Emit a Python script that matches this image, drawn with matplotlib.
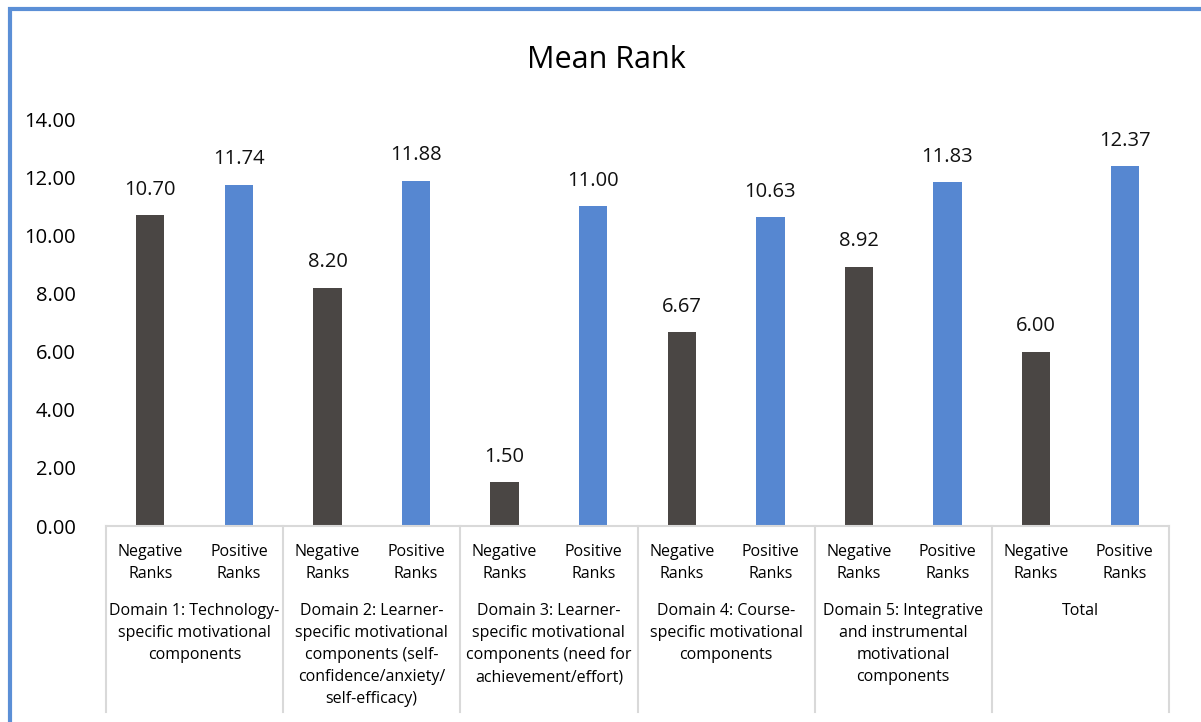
import numpy as np
import matplotlib.pyplot as plt
from matplotlib.lines import Line2D
from matplotlib.patches import Rectangle

plt.rcParams['font.family'] = ['Open Sans', 'DejaVu Sans']

# data
groups = [
    "Domain 1: Technology-\nspecific motivational\ncomponents",
    "Domain 2: Learner-\nspecific motivational\ncomponents (self-\nconfidence/anxiety/\nself-efficacy)",
    "Domain 3: Learner-\nspecific motivational\ncomponents (need for\nachievement/effort)",
    "Domain 4: Course-\nspecific motivational\ncomponents",
    "Domain 5: Integrative\nand instrumental\nmotivational\ncomponents",
    "Total",
]
sub_labels = ["Negative\nRanks", "Positive\nRanks"]
negative = [10.70, 8.20, 1.50, 6.67, 8.92, 6.00]
positive = [11.74, 11.88, 11.00, 10.63, 11.83, 12.37]
yticks = [0, 2, 4, 6, 8, 10, 12, 14]

dark = "#4a4644"
blue = "#5687d1"
grid_col = "#d9d9d9"

fig = plt.figure(figsize=(12.01, 7.22), dpi=100)
ax = fig.add_axes([106 / 1201, 1 - 526 / 722, 1063 / 1201, 407 / 722])

n = len(groups)
values = []
colors = []
for neg, pos in zip(negative, positive):
    values += [neg, pos]
    colors += [dark, blue]
x = np.arange(2 * n) + 0.5
bars = ax.bar(x, values, width=0.32, color=colors)
for b, v in zip(bars, values):
    ax.annotate(f"{v:.2f}", (b.get_x() + b.get_width() / 2, v),
                xytext=(0, 11), textcoords="offset points",
                ha="center", va="bottom", fontsize=14.5, color="#111111")

ax.set_xlim(0, 2 * n)
ax.set_ylim(0, 14)
ax.set_yticks(yticks)
ax.set_yticklabels([f"{t:.2f}" for t in yticks], fontsize=14.5)
ax.tick_params(axis="y", length=0, pad=22)
ax.set_xticks([])
for s in ["top", "right", "left"]:
    ax.spines[s].set_visible(False)
ax.spines["bottom"].set_color(grid_col)
ax.spines["bottom"].set_linewidth(1.5)

# multi-level category axis
trans = ax.get_xaxis_transform()
for i in range(n + 1):
    ax.add_line(Line2D([2 * i, 2 * i], [0, -0.457], transform=trans,
                       color=grid_col, lw=1.5, clip_on=False))
for i in range(2 * n):
    ax.text(i + 0.5, -0.045, sub_labels[i % 2], transform=trans,
            ha="center", va="top", fontsize=11.5, linespacing=1.5)
for i, g in enumerate(groups):
    ax.text(2 * i + 1, -0.19, g, transform=trans,
            ha="center", va="top", fontsize=11.5, linespacing=1.5)

fig.text(606 / 1201, 1 - 60 / 722, "Mean Rank", ha="center", va="center",
         fontsize=22)

# chart border (cropped at right and bottom)
fig.add_artist(Rectangle((9.5 / 1201, -0.1), 1.2, 1 - 8.5 / 722 + 0.1,
                         transform=fig.transFigure, fill=False,
                         edgecolor="#5b8fd6", lw=3))

fig.savefig("out.png", dpi=100)
